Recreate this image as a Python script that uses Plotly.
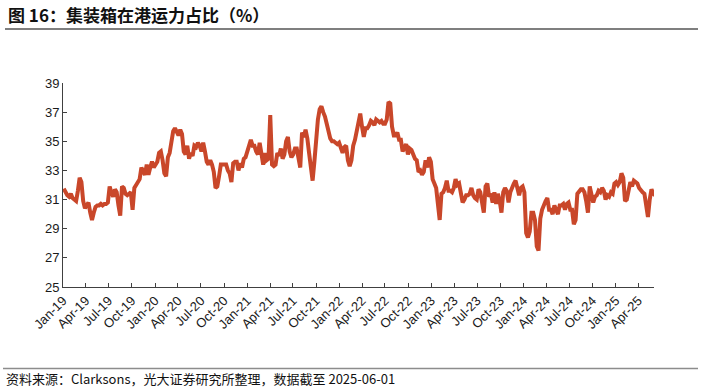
import pandas as pd
import plotly.graph_objects as go

# Weekly share of container fleet capacity in port (%)
start_date = "2019-01-04"
values = [
    # 2019
    31.75, 31.5, 31.3, 31.2, 31.4, 31.1, 31.0, 30.9, 31.6, 32.5,
    32.2, 30.9, 30.4, 30.6, 30.8, 30.1, 29.6, 30.1, 30.5, 30.6,
    30.6, 30.7, 30.6, 30.7, 30.7, 30.8, 31.9, 31.5, 31.2, 31.7,
    31.5, 30.6, 29.9, 31.9, 31.8, 31.4, 31.3, 31.4, 31.5, 30.3,
    31.8, 32.0, 32.2, 32.4, 33.2, 33.0, 32.7, 33.4, 32.7, 33.2,
    33.6, 33.2,
    # 2020
    33.4, 33.6, 34.2, 34.3, 33.7, 32.8, 32.6, 33.9,
    34.2, 35.2, 35.7, 35.9, 35.6, 35.4, 35.8, 35.5, 34.3, 34.1,
    34.7, 33.8, 34.2, 34.0, 34.7, 34.6, 34.9, 34.7, 34.3, 34.9,
    34.3, 33.6, 33.4, 33.7, 33.4, 32.9, 31.8, 31.9, 32.6, 33.4,
    33.4, 33.4, 33.4, 33.0, 32.8, 32.2, 33.5, 33.6, 33.6, 33.0,
    33.5, 33.2, 33.8, 33.9,
    # 2021
    34.3, 34.7, 35.1, 34.7, 34.7, 34.3, 34.1, 34.9, 34.1, 33.4,
    34.2, 33.7, 33.8, 36.8, 33.4, 33.3, 33.4, 34.2, 34.0, 34.5,
    33.8, 34.1, 35.0, 35.3, 34.3, 33.9, 34.1, 34.5, 34.5, 33.6,
    33.2, 35.6, 35.3, 35.8, 35.2, 34.2, 33.2, 32.3, 33.6, 35.3,
    36.5, 37.2, 37.4, 37.0, 36.7, 36.2, 35.7, 35.2, 35.0, 35.0,
    34.9, 34.8,
    # 2022
    34.9, 34.6, 34.2, 34.6, 34.7, 33.7, 33.3, 33.7, 34.7, 35.1,
    35.7, 36.1, 36.9, 36.0, 35.3, 35.9, 35.9, 36.1, 36.4, 36.3,
    36.1, 36.5, 36.4, 36.3, 36.4, 36.2, 36.2, 36.5, 37.7, 37.6,
    36.0, 35.4, 35.4, 35.6, 35.1, 35.1, 34.3, 34.5, 34.8, 34.1,
    34.5, 34.4, 34.0, 33.8, 33.7, 32.9, 33.0, 32.7, 32.9, 33.7,
    33.2, 33.9,
    # 2023
    33.6, 32.4, 32.1, 31.8, 30.7, 29.6, 31.4, 31.5, 31.8, 32.3,
    31.6, 31.6, 31.5, 31.8, 32.4, 32.0, 32.1, 31.5, 30.8, 31.0,
    31.3, 31.3, 31.4, 31.8, 31.3, 31.1, 31.0, 31.7, 31.5, 30.8,
    30.1, 31.9, 32.1, 31.2, 31.4, 30.8, 31.5, 30.7, 31.4, 30.9,
    30.1, 31.5, 31.8, 31.6, 30.8, 31.5, 31.9, 32.1, 32.3, 31.8,
    31.3, 31.8,
    # 2024
    31.9, 31.5, 28.7, 28.4, 28.8, 30.1, 30.1, 29.6, 27.8, 27.5,
    29.7, 30.3, 30.7, 30.9, 31.1, 30.3, 30.3, 30.0, 30.6, 30.3,
    30.0, 30.6, 30.6, 30.7, 30.3, 30.7, 30.8, 30.3, 30.3, 29.3,
    29.6, 31.4, 31.6, 31.7, 31.7, 31.5, 30.9, 30.1, 31.9, 31.2,
    30.8, 31.2, 31.3, 31.6, 31.5, 31.8, 31.6, 31.0, 31.3, 31.2,
    31.5, 31.4,
    # 2025
    32.1, 32.2, 32.0, 32.2, 32.8, 32.5, 30.9, 31.0, 31.5, 32.2,
    31.9, 32.3, 32.2, 32.1, 31.8, 31.6, 31.5, 31.4, 30.5, 29.8,
    31.0, 31.7, 31.4, 31.3,
]
dates = pd.date_range(start=start_date, periods=len(values), freq="7D")

y_ticks = [25, 27, 29, 31, 33, 35, 37, 39]
title_text = "图 16：集装箱在港运力占比（%）"
source_text = "资料来源：Clarksons，光大证券研究所整理，数据截至 2025-06-01"

line_color = "#C9472A"
axis_color = "#404040"

fig = go.Figure()
fig.add_trace(go.Scatter(
    x=dates, y=values, mode="lines",
    line=dict(color=line_color, width=4),
    hoverinfo="x+y", showlegend=False,
))

# plot area: x 63..654 px, y 83..287 px
W, H = 703, 390
L, R, T, B = 63, 654, 83, 287
pw, ph = R - L, B - T

def px_x(x):
    return (x - L) / pw

def px_y(y):
    return (B - y) / ph

fig.update_layout(
    width=W, height=H,
    margin=dict(l=L, r=W - R, t=T, b=H - B, pad=0),
    paper_bgcolor="white", plot_bgcolor="white",
    font=dict(family="Liberation Sans, Arial, sans-serif", size=13, color="#1a1a1a"),
    xaxis=dict(
        type="date",
        range=["2019-01-01", "2025-06-02"],
        tick0="2019-01-01", dtick="M3", tickformat="%b-%y",
        tickangle=-45,
        showline=True, linecolor=axis_color, linewidth=1,
        ticks="inside", ticklen=4, tickcolor=axis_color,
        showgrid=False, zeroline=False,
        tickfont=dict(family="Liberation Sans, Arial, sans-serif", size=13, color="#1a1a1a"),
    ),
    yaxis=dict(
        range=[25, 39], tickvals=y_ticks,
        showline=True, linecolor=axis_color, linewidth=1,
        ticks="inside", ticklen=4, tickcolor=axis_color,
        showgrid=False, zeroline=False,
        tickfont=dict(family="Liberation Sans, Arial, sans-serif", size=13, color="#1a1a1a"),
    ),
    shapes=[
        dict(type="line", xref="paper", yref="paper",
             x0=px_x(5), x1=px_x(698), y0=px_y(29), y1=px_y(29),
             line=dict(color="#7f7f7f", width=2)),
        dict(type="line", xref="paper", yref="paper",
             x0=px_x(3), x1=px_x(698), y0=px_y(368.5), y1=px_y(368.5),
             line=dict(color="#8c8c8c", width=1.5)),
    ],
    annotations=[
        dict(text="<b>" + title_text + "</b>", xref="paper", yref="paper",
             x=px_x(6), y=px_y(14), xanchor="left", yanchor="middle",
             showarrow=False,
             font=dict(family="Noto Sans CJK SC", size=17, color="#111111")),
        dict(text=source_text, xref="paper", yref="paper",
             x=px_x(4), y=px_y(378.5), xanchor="left", yanchor="middle",
             showarrow=False,
             font=dict(family="Noto Sans CJK SC", size=13, color="#111111")),
    ],
)

fig.write_html(
    "out.html",
    config={"displayModeBar": False},
    post_script="document.body.style.margin='0';document.body.style.padding='0';",
)
